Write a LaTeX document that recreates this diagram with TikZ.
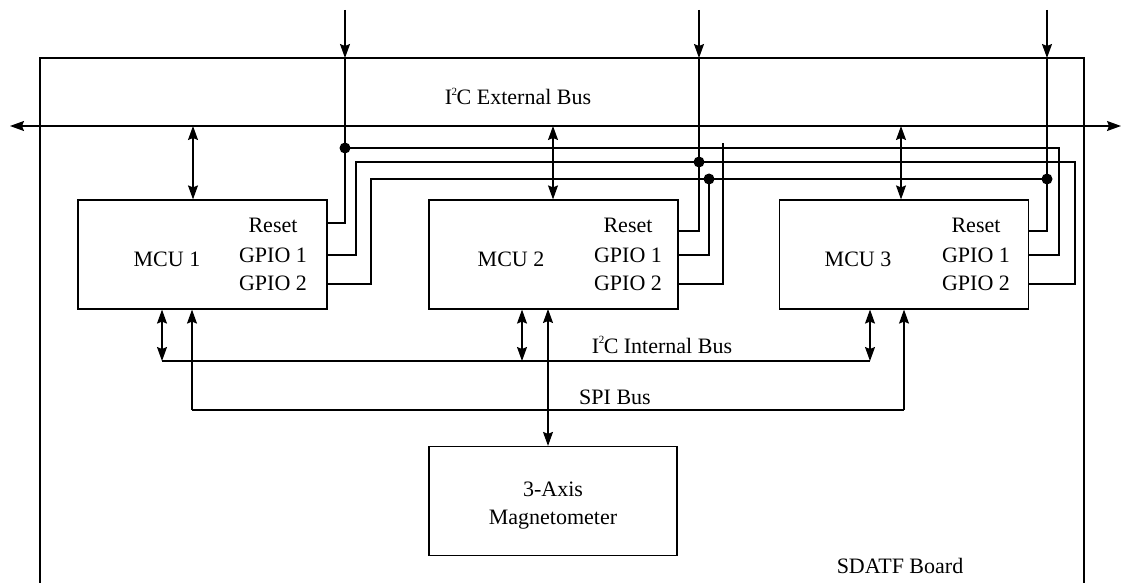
\documentclass[tikz,border=0pt]{standalone}
\usepackage{fontspec}
\setmainfont{Liberation Serif}
\usetikzlibrary{arrows.meta}
\newcommand{\sqtwo}{\kern-0.5pt\raisebox{0.42em}{\fontsize{11}{11}\selectfont 2}\kern-0.5pt}
\begin{document}
\begin{tikzpicture}[x=1pt,y=-1pt, line width=1.2pt,
  >={Stealth[length=14pt,width=10pt,inset=2pt]},
  font=\fontsize{22}{26}\selectfont,
  box/.style={draw, minimum width=249pt, minimum height=109pt, inner sep=0pt},
  lbl/.style={anchor=base, inner sep=0pt},
  jdot/.style={circle, fill, inner sep=0pt, minimum size=11pt}]
\useasboundingbox (0,0) rectangle (1122,583);
% board
\coordinate (bBL) at (40,583);
\coordinate (bTL) at (40,58);
\coordinate (bTR) at (1084,58);
\coordinate (bBR) at (1084,583);
\draw (bBL) -- (bTL) -- (bTR) -- (bBR);
\node[lbl] (board) at (900,573) {SDATF Board};
% boxes
\node[box] (m1) at (202.5,254.5) {};
\node[box] (m2) at (553.5,254.5) {};
\node[box] (m3) at (904,254.5) {};
\node[box, minimum width=248pt] (mag) at (553,501) {};
\node[lbl] (t1) at (167,266) {MCU 1};
\node[lbl] (t2) at (511,266) {MCU 2};
\node[lbl] (t3) at (858,266) {MCU 3};
\node[lbl] (r1) at (273,232) {Reset};
\node[lbl] (g11) at (273,262) {GPIO 1};
\node[lbl] (g12) at (273,290) {GPIO 2};
\node[lbl] (r2) at (628,232) {Reset};
\node[lbl] (g21) at (628,262) {GPIO 1};
\node[lbl] (g22) at (628,290) {GPIO 2};
\node[lbl] (r3) at (976,232) {Reset};
\node[lbl] (g31) at (976,262) {GPIO 1};
\node[lbl] (g32) at (976,290) {GPIO 2};
\node[lbl] (ma) at (553,496) {3-Axis};
\node[lbl] (mb) at (553,524) {Magnetometer};
% external bus
\coordinate (busL) at (10,126);
\coordinate (busR) at (1121,126);
\draw[<->] (busL) -- (busR);
\node[lbl] (extlbl) at (518,105) {I\sqtwo C External Bus};
\coordinate (e1) at (193,126);
\coordinate (e2) at (553,126);
\coordinate (e3) at (901,126);
\draw[<->] (e1) -- (e1 |- m1.north);
\draw[<->] (e2) -- (e2 |- m2.north);
\draw[<->] (e3) -- (e3 |- m3.north);
% external reset inputs
\coordinate (x1) at (345,10);
\coordinate (x2) at (699,10);
\coordinate (x3) at (1047,10);
\draw[->] (x1) -- (x1 |- bTL);
\draw[->] (x2) -- (x2 |- bTL);
\draw[->] (x3) -- (x3 |- bTL);
% pin points
\coordinate (p1r) at (m1.east |- 0,223);
\coordinate (p1a) at (m1.east |- 0,255);
\coordinate (p1b) at (m1.east |- 0,284);
\coordinate (p2r) at (m2.east |- 0,231);
\coordinate (p2a) at (m2.east |- 0,255);
\coordinate (p2b) at (m2.east |- 0,284);
\coordinate (p3r) at (m3.east |- 0,231);
\coordinate (p3a) at (m3.east |- 0,255);
\coordinate (p3b) at (m3.east |- 0,284);
% junctions
\coordinate (jA) at (345,148);
\coordinate (jB) at (699,162);
\coordinate (jC) at (709,179);
\coordinate (jD) at (1047,179);
% nets
\draw (x1 |- bTL) -- (p1r -| x1) -- (p1r);
\draw (jA) -- (1059,148) -- (1059,255) -- (p3a);
\draw (p1a) -- (356,255) -- (356,162) -- (1075,162) -- (1075,284) -- (p3b);
\draw (x2 |- bTL) -- (p2r -| x2) -- (p2r);
\draw (p1b) -- (371,284) -- (371,179) -- (jD);
\draw (p2a) -- (p2a -| jC) -- (jC);
\draw (x3 |- bTL) -- (p3r -| x3) -- (p3r);
\draw (p2b) -- (723,284) -- (723,143);
\node[jdot] (dA) at (jA) {};
\node[jdot] (dB) at (jB) {};
\node[jdot] (dC) at (jC) {};
\node[jdot] (dD) at (jD) {};
% internal I2C bus
\coordinate (i1) at (162,361);
\coordinate (i2) at (522,361);
\coordinate (i3) at (870,361);
\draw[<->] (i1 |- m1.south) -- (i1);
\draw[<->] (i2 |- m2.south) -- (i2);
\draw[<->] (i3 |- m3.south) -- (i3);
\draw (i1) -- (i3);
\node[lbl] (intlbl) at (662,353) {I\sqtwo C Internal Bus};
% SPI bus
\coordinate (s1) at (192,410);
\coordinate (s3) at (904,410);
\draw[->] (s1) -- (s1 |- m1.south);
\draw[->] (s3) -- (s3 |- m3.south);
\draw (s1) -- (s3);
\coordinate (s2) at (548,309);
\draw[<->] (s2) -- (s2 |- mag.north);
\node[lbl] (spilbl) at (615,404) {SPI Bus};
\end{tikzpicture}
\end{document}
